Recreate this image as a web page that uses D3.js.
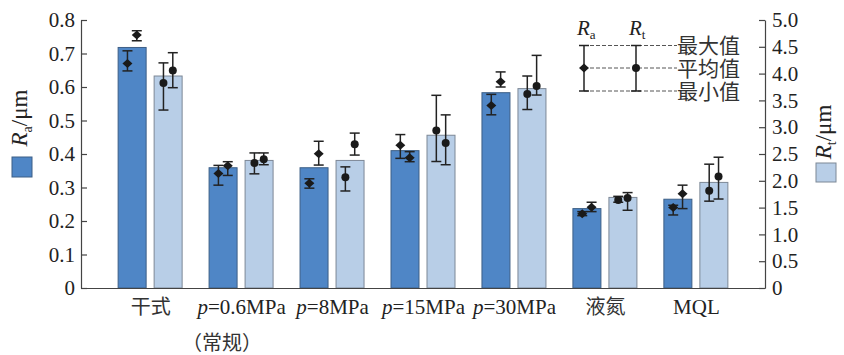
<!DOCTYPE html>
<html>
<head>
<meta charset="utf-8">
<script src="https://cdn.jsdelivr.net/npm/d3@7"></script>
<style>
  body { margin: 0; background: #fff; }
  svg text { font-family: "Liberation Serif", "Times New Roman", "Noto Sans CJK SC", serif; fill: #222; }
</style>
</head>
<body>
<div class="chart"></div>
<script>
// categories along the x axis
var groups = ["干式", "p=0.6MPa", "p=8MPa", "p=15MPa", "p=30MPa", "液氮", "MQL"];

// bar heights
var raBar = [0.718, 0.359, 0.359, 0.410, 0.583, 0.237, 0.265];
var rtBar = [3.955, 2.38, 2.38, 2.85, 3.72, 1.69, 1.97];

// Ra error bars, first (left) measurement
var raMeanA = [0.670, 0.342, 0.3125, 0.426, 0.545, 0.222, 0.240];
var raMinA  = [0.648, 0.307, 0.298, 0.387, 0.517, 0.216, 0.218];
var raMaxA  = [0.708, 0.366, 0.326, 0.458, 0.578, 0.228, 0.247];
// Ra error bars, second (right) measurement
var raMeanB = [0.755, 0.365, 0.401, 0.389, 0.616, 0.241, 0.281];
var raMinB  = [0.738, 0.336, 0.367, 0.377, 0.600, 0.228, 0.237];
var raMaxB  = [0.768, 0.377, 0.438, 0.407, 0.645, 0.256, 0.307];

// Rt error bars
var rtMeanA = [3.825, 2.33, 2.065, 2.94, 3.62, 1.64, 1.815];
var rtMinA  = [3.32, 2.13, 1.81, 2.36, 3.33, 1.60, 1.62];
var rtMaxA  = [4.20, 2.52, 2.26, 3.595, 3.955, 1.71, 2.31];
var rtMeanB = [4.06, 2.40, 2.68, 2.705, 3.77, 1.68, 2.08];
var rtMinB  = [3.737, 2.30, 2.48, 2.30, 3.60, 1.45, 1.66];
var rtMaxB  = [4.39, 2.52, 2.89, 3.23, 4.34, 1.78, 2.44];

// tick values
var raTicks = [0, 0.1, 0.2, 0.3, 0.4, 0.5, 0.6, 0.7, 0.8];
var rtTicks = [0, 0.5, 1.0, 1.5, 2.0, 2.5, 3.0, 3.5, 4.0, 4.5, 5.0];

var width = 844, height = 355;
var plotL = 81, plotR = 765, plotT = 20, plotB = 288;
var barW = 28, barGap = 8, capW = 10;
var raColor = "#4f86c6", rtColor = "#b8cee7";

var svg = d3.select(".chart").append("svg")
            .attr("width", width)
            .attr("height", height);

var x = d3.scalePoint().domain(groups).range([plotL, plotR]).padding(0.76);
var yRa = d3.scaleLinear().domain([0, 0.8]).range([plotB, plotT]);
var yRt = d3.scaleLinear().domain([0, 5]).range([plotB, plotT]);

function fmt(d) { return d === 0 ? "0" : d.toFixed(1); }

//bars
svg.append("g").selectAll("rect")
   .data(raBar).enter().append("rect")
   .attr("x", (d, i) => x(groups[i]) - barW - barGap / 2)
   .attr("y", d => yRa(d))
   .attr("width", barW)
   .attr("height", d => plotB - yRa(d))
   .style("fill", raColor)
   .style("stroke", "#3d5f86")
   .style("stroke-width", 1);

svg.append("g").selectAll("rect")
   .data(rtBar).enter().append("rect")
   .attr("x", (d, i) => x(groups[i]) + barGap / 2)
   .attr("y", d => yRt(d))
   .attr("width", barW)
   .attr("height", d => plotB - yRt(d))
   .style("fill", rtColor)
   .style("stroke", "#7d8896")
   .style("stroke-width", 1);

var diamond = "M0,-4.5L5,0L0,4.5L-5,0Z";

//error bars: one set per bar offset (1/3 and 2/3 of the bar)
function errorBars(means, mins, maxs, scale, x0, marker) {
  var g = svg.append("g");
  var rows = means.map((m, i) => ({cx: x(groups[i]) + x0, mean: m, min: mins[i], max: maxs[i]}));
  var e = g.selectAll("g").data(rows).enter().append("g");
  e.append("line")
   .attr("x1", d => d.cx).attr("x2", d => d.cx)
   .attr("y1", d => scale(d.min)).attr("y2", d => scale(d.max));
  e.append("line")
   .attr("x1", d => d.cx - capW / 2).attr("x2", d => d.cx + capW / 2)
   .attr("y1", d => scale(d.max)).attr("y2", d => scale(d.max));
  e.append("line")
   .attr("x1", d => d.cx - capW / 2).attr("x2", d => d.cx + capW / 2)
   .attr("y1", d => scale(d.min)).attr("y2", d => scale(d.min));
  e.selectAll("line").style("stroke", "#222").style("stroke-width", 1.5);
  if (marker === "diamond") {
    e.append("path")
     .attr("d", diamond)
     .attr("transform", d => "translate(" + d.cx + "," + scale(d.mean) + ")")
     .style("fill", "#1a1a1a");
  } else {
    e.append("circle")
     .attr("cx", d => d.cx).attr("cy", d => scale(d.mean)).attr("r", 4)
     .style("fill", "#1a1a1a");
  }
}
var raX = -barW - barGap / 2, rtX = barGap / 2;
errorBars(raMeanA, raMinA, raMaxA, yRa, raX + barW / 3, "diamond");
errorBars(raMeanB, raMinB, raMaxB, yRa, raX + barW * 2 / 3, "diamond");
errorBars(rtMeanA, rtMinA, rtMaxA, yRt, rtX + barW / 3, "circle");
errorBars(rtMeanB, rtMinB, rtMaxB, yRt, rtX + barW * 2 / 3, "circle");

//axes
var yAxisL = d3.axisLeft(yRa).tickValues(raTicks).tickFormat(fmt)
               .tickSizeInner(-6).tickSizeOuter(0).tickPadding(6);
var yAxisR = d3.axisRight(yRt).tickValues(rtTicks).tickFormat(fmt)
               .tickSizeInner(-6).tickSizeOuter(0).tickPadding(7);
var xAxis = d3.axisBottom(x).tickSize(0).tickPadding(12);

var gl = svg.append("g").attr("transform", "translate(" + plotL + ",0)").call(yAxisL);
var gr = svg.append("g").attr("transform", "translate(" + plotR + ",0)").call(yAxisR);
var gx = svg.append("g").attr("transform", "translate(0," + plotB + ")").call(xAxis);

[gl, gr, gx].forEach(function(g) {
  g.selectAll("path, line").style("stroke", "#444").style("stroke-width", 1.2);
  g.selectAll("text").style("font-size", "21px").style("fill", "#222")
   .style("font-family", "'Liberation Serif', 'Noto Sans CJK SC', serif");
});

//x labels: italic p, CJK a bit lighter
gx.selectAll("text").each(function(d) {
  var t = d3.select(this).text("").style("font-size", "21px").attr("dy", "0.68em");
  if (d.indexOf("p=") === 0) {
    t.append("tspan").style("font-style", "italic").text("p");
    t.append("tspan").text(d.slice(1));
  } else if (/[\u4e00-\u9fff]/.test(d)) {
    t.style("font-size", "20px").style("fill", "#333").text(d);
  } else {
    t.text(d);
  }
});
svg.append("text")
   .attr("x", x(groups[1]) - 19)
   .attr("y", 350)
   .attr("text-anchor", "middle")
   .style("font-size", "20px")
   .style("fill", "#333")
   .text("（常规）");

//axis titles with legend squares
function axisTitle(cx, cy, sub) {
  var t = svg.append("text")
     .attr("transform", "translate(" + cx + "," + cy + ") rotate(-90)")
     .attr("text-anchor", "middle")
     .style("font-size", "23px");
  t.append("tspan").style("font-style", "italic").text("R");
  t.append("tspan").attr("dy", 5).style("font-size", "14px").text(sub);
  t.append("tspan").attr("dy", -5).text("/μm");
}
axisTitle(27, 118, "a");
axisTitle(831, 132, "t");

svg.append("rect").attr("x", 12).attr("y", 157).attr("width", 20).attr("height", 20)
   .style("fill", raColor).style("stroke", "#3d5f86");
svg.append("rect").attr("x", 816).attr("y", 163).attr("width", 20).attr("height", 19)
   .style("fill", rtColor).style("stroke", "#7d8896");

//legend for error bars
var lg = svg.append("g");
var legRows = [{y: 45.5, label: "最大值"}, {y: 68, label: "平均值"}, {y: 91, label: "最小值"}];
var legRa = 584, legRt = 636, legEnd = 677;
lg.selectAll(".dash").data(legRows).enter().append("line")
  .attr("x1", legRa).attr("x2", legEnd)
  .attr("y1", d => d.y).attr("y2", d => d.y)
  .style("stroke", "#555").style("stroke-width", 1).style("stroke-dasharray", "4,2");
[legRa, legRt].forEach(function(lx, k) {
  lg.append("line").attr("x1", lx).attr("x2", lx).attr("y1", 45.5).attr("y2", 91)
    .style("stroke", "#222").style("stroke-width", 1.5);
  [45.5, 91].forEach(function(yy) {
    lg.append("line").attr("x1", lx - capW / 2).attr("x2", lx + capW / 2)
      .attr("y1", yy).attr("y2", yy)
      .style("stroke", "#222").style("stroke-width", 1.5);
  });
  if (k === 0) {
    lg.append("path").attr("d", diamond).attr("transform", "translate(" + lx + ",68)").style("fill", "#1a1a1a");
  } else {
    lg.append("circle").attr("cx", lx).attr("cy", 68).attr("r", 4).style("fill", "#1a1a1a");
  }
  var t = lg.append("text").attr("x", lx - 7).attr("y", 35).style("font-size", "21px");
  t.append("tspan").style("font-style", "italic").text("R");
  t.append("tspan").attr("dy", 4).style("font-size", "13px").text(k === 0 ? "a" : "t");
});
lg.selectAll(".lab").data(legRows).enter().append("text")
  .attr("x", legEnd)
  .attr("y", d => d.y)
  .attr("dy", "0.36em")
  .style("font-size", "21px")
  .style("fill", "#333")
  .text(d => d.label);
</script>
</body>
</html>
